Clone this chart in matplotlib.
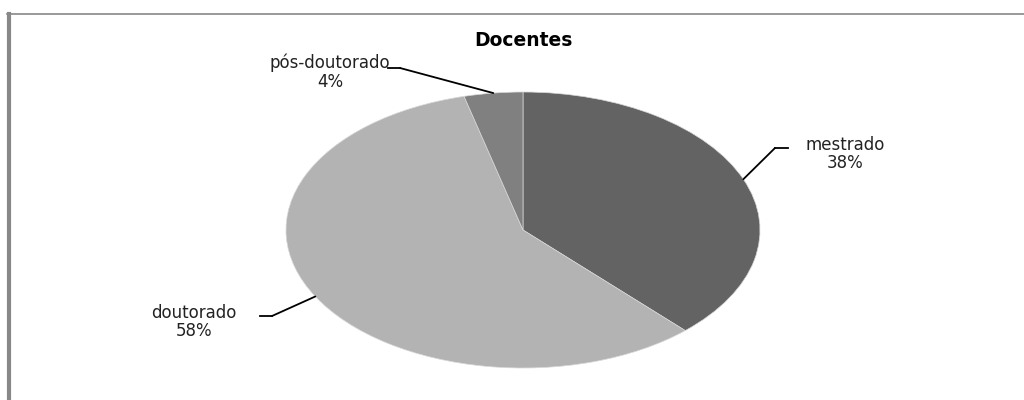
import matplotlib.pyplot as plt
import numpy as np

labels = ["mestrado", "doutorado", "pós-doutorado"]
values = [38, 58, 4]
colors = ["#636363", "#b3b3b3", "#808080"]
title = "Docentes"

# label text centres in figure pixels (x, y from top)
label_pos = [(845, 154), (194, 322), (330, 72)]
# leader: elbow x, end x of the short horizontal piece, y of the horizontal piece
leader = [(775, 788, 148), (272, 260, 316), (400, 388, 68)]

W, H = 1024, 400
fig = plt.figure(figsize=(W / 100, H / 100), dpi=100)

# frame lines (top and left like the original)
fig.add_artist(plt.Line2D([7 / W, 1], [1 - 13.5 / H, 1 - 13.5 / H], color="#888888", lw=1.2,
                          transform=fig.transFigure))
fig.add_artist(plt.Line2D([8.5 / W, 8.5 / W], [0, 1 - 13.5 / H], color="#888888", lw=3,
                          transform=fig.transFigure))

cx, cy, rx, ry = 523, 230, 237, 138
ax = fig.add_axes([(cx - rx) / W, 1 - (cy + ry) / H, 2 * rx / W, 2 * ry / H])
wedges, _ = ax.pie(values, colors=colors, startangle=90, counterclock=False,
                   wedgeprops=dict(edgecolor="#d8d8d8", linewidth=0.5))
ax.set_aspect("auto")
ax.set_xlim(-1, 1)
ax.set_ylim(-1, 1)
ax.axis("off")

fig.text(cx / W, 1 - 41 / H, title, ha="center", va="center", fontsize=13.5,
         fontweight="bold", family="DejaVu Sans")

for w, lab, v, (px, py), (ex, hx, ly) in zip(wedges, labels, values, label_pos, leader):
    ang = np.deg2rad((w.theta1 + w.theta2) / 2)
    ax.annotate("", xy=(np.cos(ang), np.sin(ang)), xycoords="data",
                xytext=(ex / W, 1 - ly / H), textcoords="figure fraction",
                arrowprops=dict(arrowstyle="-", color="black", lw=1.3, shrinkA=0, shrinkB=0))
    fig.add_artist(plt.Line2D([ex / W, hx / W], [1 - ly / H, 1 - ly / H], color="black",
                              lw=1.3, transform=fig.transFigure))
    fig.text(px / W, 1 - py / H, f"{lab}\n{v}%", ha="center", va="center", fontsize=12,
             linespacing=1.05, family="DejaVu Sans", color="#222222")

fig.savefig("out.png", dpi=100, facecolor="white")
